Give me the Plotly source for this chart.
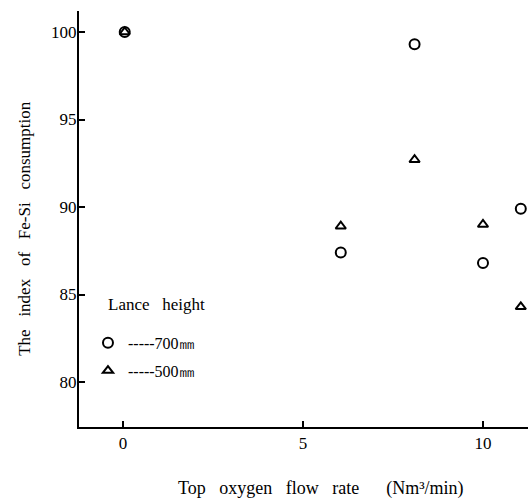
import plotly.graph_objects as go

# Data
flow_700 = [0.05, 6.05, 8.1, 10.0, 11.05]
index_700 = [100.0, 87.4, 99.3, 86.8, 89.9]
flow_500 = [0.05, 6.05, 8.1, 10.0, 11.05]
index_500 = [100.0, 88.9, 92.7, 89.0, 84.3]

x_ticks = [0, 5, 10]
y_ticks = [80, 85, 90, 95, 100]

FONT = "Liberation Serif, Times New Roman, serif"

fig = go.Figure()
fig.add_trace(go.Scatter(
    x=flow_700, y=index_700, mode="markers", name="-----700㎜",
    legendgroup="a",
    marker=dict(symbol="circle-open", size=10, color="black", line=dict(width=2, color="black")),
))
fig.add_trace(go.Scatter(
    x=flow_500, y=index_500, mode="markers", name="-----500㎜",
    legendgroup="b",
    marker=dict(symbol="triangle-up-open", size=9, color="black", line=dict(width=2, color="black")),
))

fig.update_layout(
    width=529, height=499,
    margin=dict(l=79, r=1, t=11, b=72),
    paper_bgcolor="white", plot_bgcolor="white",
    font=dict(family=FONT, size=15, color="black"),
    showlegend=True,
    legend=dict(
        x=0.02, y=0.243, xanchor="left", yanchor="top",
        font=dict(family=FONT, size=16),
        bgcolor="rgba(0,0,0,0)", traceorder="grouped", tracegroupgap=4,
    ),
    xaxis=dict(
        range=[-1.22, 11.25], tickvals=x_ticks, ticktext=[str(v) for v in x_ticks],
        showline=True, linecolor="black", linewidth=2, showgrid=False, zeroline=False,
        ticks="inside", ticklen=6, tickwidth=1.5, tickcolor="black",
        tickfont=dict(family=FONT, size=17),
    ),
    yaxis=dict(
        range=[77.43, 101.2], tickvals=y_ticks, ticktext=[str(v) for v in y_ticks],
        showline=True, linecolor="black", linewidth=2, showgrid=False, zeroline=False,
        ticks="inside", ticklen=6, tickwidth=1.5, tickcolor="black",
        tickfont=dict(family=FONT, size=17), ticklabelstandoff=-3,
    ),
    annotations=[
        dict(text="The   index   of   Fe-Si   consumption", xref="paper", yref="paper",
             x=-0.122, y=0.477, xanchor="center", yanchor="middle", textangle=-90,
             showarrow=False, font=dict(family=FONT, size=17)),
        dict(text="Top   oxygen   flow   rate      (Nm³/min)", xref="paper", yref="paper",
             x=0.539, y=-0.147, xanchor="center", yanchor="middle",
             showarrow=False, font=dict(family=FONT, size=18)),
        dict(text="Lance   height", xref="paper", yref="paper",
             x=0.06, y=0.295, xanchor="left", yanchor="middle",
             showarrow=False, font=dict(family=FONT, size=17)),
    ],
)

fig.write_html("out.html")
